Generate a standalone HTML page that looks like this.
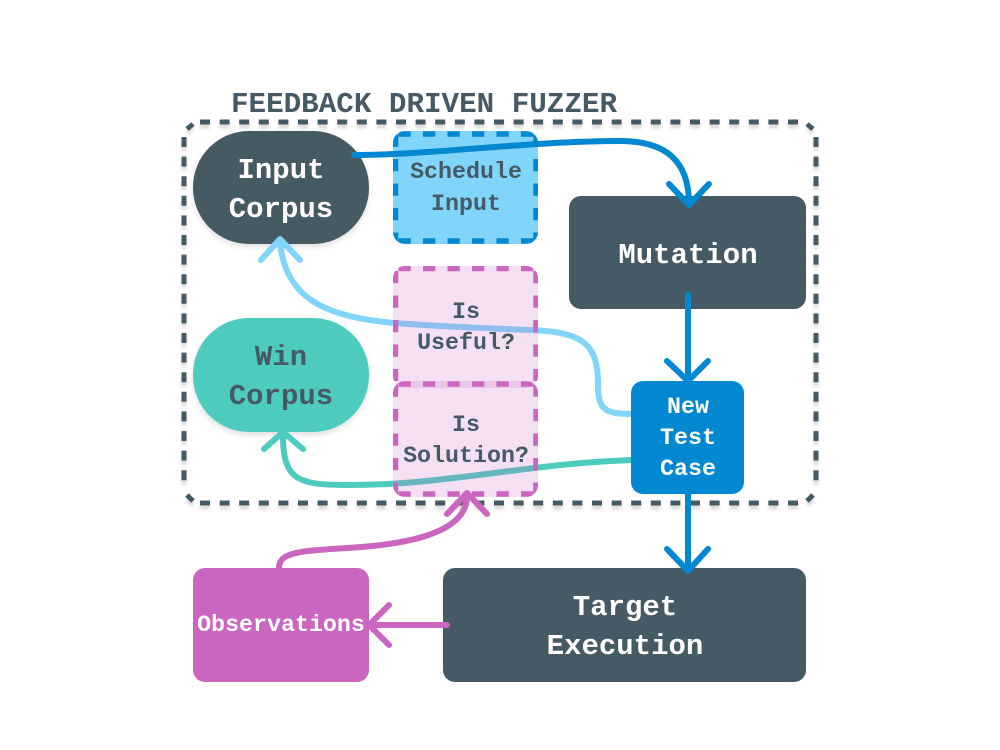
<!DOCTYPE html>
<html><head><meta charset="utf-8">
<style>
html,body{margin:0;padding:0;background:#fff;width:1000px;height:750px;overflow:hidden}
svg{display:block}
text{font-family:"Liberation Mono","DejaVu Sans Mono",monospace;font-weight:bold;text-anchor:middle}
.a{fill:none;stroke-width:6;stroke-linecap:round;stroke-linejoin:round}
.d{fill:none;stroke:#455a64;stroke-width:5;stroke-dasharray:10 9.6}
.c{fill:none;stroke:#455a64;stroke-width:5}
.b{fill:none;stroke:#0288d1;stroke-width:5.5;stroke-dasharray:12.25 12.25}
.p{fill:none;stroke:#ca66bf;stroke-width:5.5;stroke-dasharray:12.25 12.25}
</style></head><body>
<svg width="1000" height="750" viewBox="0 0 1000 750" xmlns="http://www.w3.org/2000/svg">
<defs>
<filter id="s" x="-10%" y="-10%" width="120%" height="125%"><feDropShadow dx="0" dy="3" stdDeviation="3" flood-color="#000" flood-opacity="0.12"/></filter>
<filter id="o" x="-5%" y="-5%" width="110%" height="112%"><feDropShadow dx="0" dy="4" stdDeviation="1.5" flood-color="#000" flood-opacity="0.14"/></filter>
<clipPath id="c1"><rect x="393" y="131" width="145" height="113" rx="12"/></clipPath>
<clipPath id="c2"><rect x="393" y="266" width="145" height="122" rx="12"/></clipPath>
<clipPath id="c3"><rect x="393" y="381" width="145" height="116" rx="12"/></clipPath>
</defs>

<g filter="url(#o)">
<path class="d" d="M200 122 H803"/>
<path class="d" d="M200 503 H803"/>
<path class="d" d="M184 137 V488"/>
<path class="d" d="M816 137 V488"/>
<path class="c" d="M187 129 L193 124"/>
<path class="c" d="M807 124 L813 129"/>
<path class="c" d="M187 495 L193 501"/>
<path class="c" d="M807 501 L813 495"/>
</g>

<rect x="193" y="131" width="176" height="113" rx="56" fill="#455a64" filter="url(#s)"/>
<rect x="193" y="318" width="176" height="114" rx="56" fill="#4dccbd" filter="url(#s)"/>
<rect x="569" y="196" width="237" height="113" rx="12" fill="#455a64"/>
<rect x="443" y="568" width="363" height="114" rx="12" fill="#455a64"/>
<rect x="193" y="568" width="176" height="114" rx="12" fill="#ca66bf"/>

<rect x="393" y="131" width="145" height="113" rx="12" fill="#81d4fa"/>
<g clip-path="url(#c1)">
<path class="b" d="M398.5 134 H534"/>
<path class="b" d="M398.5 241 H534"/>
<path class="b" d="M395.5 134.5 V245"/>
<path class="b" d="M536 134.5 V245"/>
</g>

<path class="a" stroke="#81d4fa" d="M633 414 C605 414 598 410 598 385 C598 345 585 332 530 330 C480 328 430 326 395 323 C320 317 285 295 280 242"/>
<path class="a" stroke="#81d4fa" d="M261 260 L280 239 L300 260"/>
<path class="a" stroke="#4dccbd" d="M633 460 C570 462 520 470 470 476 C430 481 395 485 350 485 C300 485 283 482 283 436"/>
<path class="a" stroke="#4dccbd" d="M264 449 L283 432 L303 449"/>

<rect x="393" y="266" width="145" height="122" rx="12" fill="#ca66bf" fill-opacity="0.2"/>
<rect x="393" y="381" width="145" height="116" rx="12" fill="#ca66bf" fill-opacity="0.2"/>
<g clip-path="url(#c2)">
<path class="p" d="M398.5 268.5 H534"/>
<path class="p" d="M395.5 271 V381"/>
<path class="p" d="M536 271 V381"/>
</g>
<g clip-path="url(#c3)">
<path class="p" d="M398.5 384 H534"/>
<path class="p" d="M398.5 494 H534"/>
<path class="p" d="M395.5 384.5 V497"/>
<path class="p" d="M536 384.5 V497"/>
</g>

<path class="a" stroke="#0288d1" d="M354 155 C430 155 530 141 620 141 C665 141 689 160 689 204"/>
<path class="a" stroke="#0288d1" d="M669 184 L689 205 L709 184"/>
<path class="a" stroke="#ca66bf" d="M279 568 C279 552 300 551 347 548 C400 545 467 535 467 496"/>
<path class="a" stroke="#ca66bf" d="M447 514 L467 493 L487 514"/>

<rect x="631" y="381" width="113" height="113" rx="12" fill="#0288d1"/>
<path class="a" stroke="#0288d1" d="M688 295 L688 378"/>
<path class="a" stroke="#0288d1" d="M667 361 L688 381 L708 361"/>
<path class="a" stroke="#0288d1" d="M688 494 L688 569"/>
<path class="a" stroke="#0288d1" d="M667 549 L688 571 L708 549"/>
<path class="a" stroke="#ca66bf" d="M447 625 L372 625"/>
<path class="a" stroke="#ca66bf" d="M389 605 L369 625 L389 645"/>

<g transform="translate(0,-2)">
<text x="424" y="114" font-size="29" fill="#455a64" textLength="386" lengthAdjust="spacingAndGlyphs">FEEDBACK DRIVEN FUZZER</text>
<g font-size="29" fill="#fff">
<text x="281" y="180">Input</text>
<text x="281" y="219">Corpus</text>
<text x="688" y="265">Mutation</text>
<text x="625" y="617">Target</text>
<text x="625" y="656">Execution</text>
</g>
<g font-size="29" fill="#455a64">
<text x="281" y="367">Win</text>
<text x="281" y="406">Corpus</text>
</g>
<g font-size="23.3" fill="#455a64">
<text x="466" y="180">Schedule</text>
<text x="466" y="212">Input</text>
<text x="466" y="320">Is</text>
<text x="466" y="351">Useful?</text>
<text x="466" y="433">Is</text>
<text x="466" y="464">Solution?</text>
</g>
<text x="281" y="633" font-size="23.3" fill="#fff">Observations</text>
<g font-size="23.3" fill="#fff">
<text x="688" y="415">New</text>
<text x="688" y="446">Test</text>
<text x="688" y="477">Case</text>
</g>
</g>
</svg>
</body></html>
